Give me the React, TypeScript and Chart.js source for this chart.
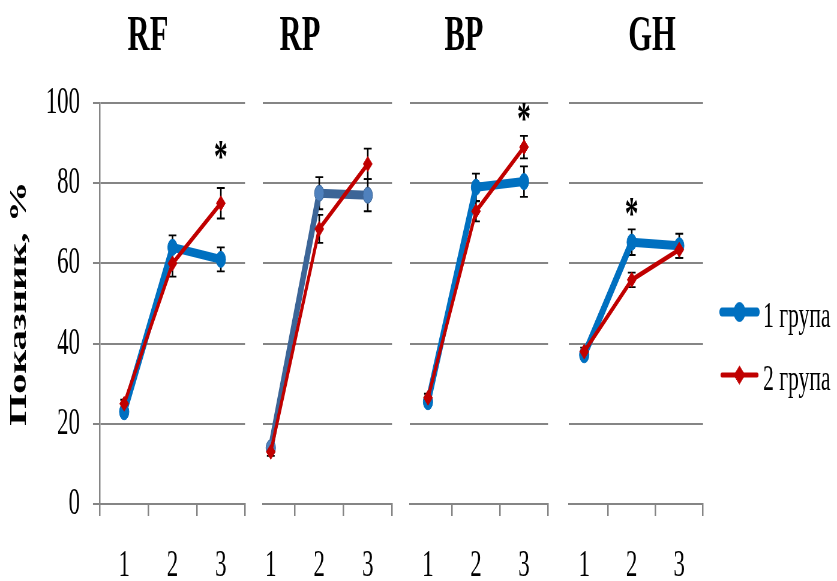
import { useEffect, useRef } from "react";
import { Chart, registerables } from "chart.js";

Chart.register(...registerables);
Chart.defaults.font.family = '"Liberation Serif", serif';
Chart.defaults.color = "#000";

// ---------------- data ----------------
const panelTitles = ["RF", "RP", "BP", "GH"];
const categories = [1, 2, 3];
const yTickValues = [0, 20, 40, 60, 80, 100];
const yAxisTitle = "Показник, %";
const group1Label = "1 група";
const group2Label = "2 група";

const rfGroup1 = [23, 64, 61];
const rfGroup1Err = [1, 3, 3];
const rfGroup2 = [25, 60, 75];
const rfGroup2Err = [1, 3.3, 3.8];
const rfStars = [null, null, 88.3];

const rpGroup1 = [14, 77.5, 77];
const rpGroup1Err = [1, 4, 4];
const rpGroup2 = [13, 68.6, 84.8];
const rpGroup2Err = [1, 3.5, 3.8];
const rpStars = [null, null, null];

const bpGroup1 = [25.5, 79, 80.4];
const bpGroup1Err = [1, 3.4, 3.8];
const bpGroup2 = [26.5, 73, 89];
const bpGroup2Err = [1, 2.5, 2.8];
const bpStars = [null, null, 97.8];

const ghGroup1 = [37.2, 65.3, 64.4];
const ghGroup1Err = [1, 3.2, 3];
const ghGroup2 = [38, 55.9, 63.4];
const ghGroup2Err = [1, 1.8, 2];
const ghStars = [null, 74.1, null];

// ---------------- layout / style ----------------
const S = 0.6; // horizontal squash of the whole picture
const W = 837 / S;
const H = 581;
const RED = "#C00000";
const GRID = "#858585";

const panelLayout = [
  { left: 100, right: 245, xMin: 0.5 },
  { left: 263, right: 392, xMin: 0.84 },
  { left: 410, right: 548, xMin: 0.625 },
  { left: 569, right: 703, xMin: 0.68 },
];
const titleCenters = [148, 300, 464, 652];
const group1Styles = [
  { line: "#0070C0", fill: "#0070C0" },
  { line: "#3C6597", fill: "#4F81BD" },
  { line: "#0070C0", fill: "#0070C0" },
  { line: "#0070C0", fill: "#0070C0" },
];

const panelData = [
  { g1: rfGroup1, e1: rfGroup1Err, g2: rfGroup2, e2: rfGroup2Err, stars: rfStars },
  { g1: rpGroup1, e1: rpGroup1Err, g2: rpGroup2, e2: rpGroup2Err, stars: rpStars },
  { g1: bpGroup1, e1: bpGroup1Err, g2: bpGroup2, e2: bpGroup2Err, stars: bpStars },
  { g1: ghGroup1, e1: ghGroup1Err, g2: ghGroup2, e2: ghGroup2Err, stars: ghStars },
];

type Pt = { x: number; y: number };
function series(values: number[]): Pt[] {
  return categories.map((c, i) => ({ x: c, y: values[i] }));
}

const errorBarsPlugin = {
  id: "errorBars",
  beforeDatasetsDraw(chart: any) {
    const { ctx, scales } = chart;
    const xs = scales.x;
    const ys = scales.y;
    chart.data.datasets.forEach((ds: any) => {
      const errs: number[] | undefined = ds.errors;
      if (!errs) return;
      ds.data.forEach((p: Pt, i: number) => {
        const e = errs[i];
        if (!e) return;
        const x = xs.getPixelForValue(p.x);
        const yTop = ys.getPixelForValue(p.y + e);
        const yBot = ys.getPixelForValue(p.y - e);
        ctx.save();
        ctx.strokeStyle = "#000";
        ctx.lineWidth = 2.6;
        ctx.beginPath();
        ctx.moveTo(x, yTop);
        ctx.lineTo(x, yBot);
        ctx.stroke();
        ctx.lineWidth = 1.8;
        ctx.beginPath();
        ctx.moveTo(x - 6.5, yTop);
        ctx.lineTo(x + 6.5, yTop);
        ctx.moveTo(x - 6.5, yBot);
        ctx.lineTo(x + 6.5, yBot);
        ctx.stroke();
        ctx.restore();
      });
    });
  },
};

function makeStarsPlugin(values: (number | null)[]) {
  return {
    id: "stars",
    afterDatasetsDraw(chart: any) {
      const { ctx, scales } = chart;
      const size = 46;
      ctx.save();
      ctx.fillStyle = "#000";
      ctx.font = `bold ${size}px "Liberation Serif", serif`;
      ctx.textAlign = "center";
      ctx.textBaseline = "alphabetic";
      values.forEach((v, i) => {
        if (v == null) return;
        const x = scales.x.getPixelForValue(categories[i]);
        const y = scales.y.getPixelForValue(v);
        ctx.fillText("*", x, y + size * 0.48);
      });
      ctx.restore();
    },
  };
}

function makeLegendPlugin(cfg: { x0: number; x1: number; y: number; dy: number; textX: number; textDy: number }) {
  return {
    id: "sideLegend",
    afterDraw(chart: any) {
      const ctx = chart.ctx;
      chart.data.datasets.forEach((ds: any, i: number) => {
        const y = cfg.y + i * cfg.dy;
        ctx.save();
        ctx.strokeStyle = ds.borderColor;
        ctx.lineWidth = ds.borderWidth;
        ctx.lineCap = "round";
        ctx.beginPath();
        ctx.moveTo(cfg.x0, y);
        ctx.lineTo(cfg.x1, y);
        ctx.stroke();
        const cx = (cfg.x0 + cfg.x1) / 2;
        const r = ds.pointRadius + 1.5;
        ctx.fillStyle = ds.pointBackgroundColor;
        ctx.strokeStyle = ds.pointBorderColor;
        ctx.lineWidth = ds.pointBorderWidth;
        ctx.beginPath();
        if (ds.pointStyle === "rectRot") {
          ctx.moveTo(cx - r, y);
          ctx.lineTo(cx, y - r);
          ctx.lineTo(cx + r, y);
          ctx.lineTo(cx, y + r);
          ctx.closePath();
        } else {
          ctx.arc(cx, y, r, 0, Math.PI * 2);
        }
        ctx.fill();
        ctx.stroke();
        ctx.fillStyle = "#000";
        ctx.font = '36px "Liberation Serif", serif';
        ctx.textAlign = "left";
        ctx.textBaseline = "alphabetic";
        ctx.fillText(ds.label, cfg.textX, y + cfg.textDy);
        ctx.restore();
      });
    },
  };
}

function buildConfig(i: number): any {
  const L = panelLayout[i];
  const d = panelData[i];
  const c1 = group1Styles[i];
  const areaLeft = L.left / S;
  const areaRight = L.right / S;
  const first = i === 0;
  const plugins: any[] = [errorBarsPlugin, makeStarsPlugin(d.stars)];
  if (i === panelLayout.length - 1) {
    plugins.push(
      makeLegendPlugin({ x0: 722 / S, x1: 757 / S, y: 312, dy: 63, textX: 763 / S, textDy: 15 })
    );
  }
  return {
    type: "line",
    data: {
      datasets: [
        {
          label: group1Label,
          data: series(d.g1),
          errors: d.e1,
          borderColor: c1.line,
          backgroundColor: c1.fill,
          borderWidth: 9,
          borderCapStyle: "round",
          borderJoinStyle: "round",
          pointStyle: "circle",
          pointRadius: 8,
          pointBackgroundColor: c1.fill,
          pointBorderColor: c1.line,
          pointBorderWidth: 1,
          tension: 0,
          fill: false,
          order: 1,
        },
        {
          label: group2Label,
          data: series(d.g2),
          errors: d.e2,
          borderColor: RED,
          backgroundColor: RED,
          borderWidth: 5,
          borderCapStyle: "round",
          borderJoinStyle: "round",
          pointStyle: "rectRot",
          pointRadius: 7.5,
          pointBackgroundColor: RED,
          pointBorderColor: RED,
          pointBorderWidth: 1,
          tension: 0,
          fill: false,
          order: 0,
        },
      ],
    },
    options: {
      animation: false,
      responsive: false,
      maintainAspectRatio: false,
      devicePixelRatio: 1,
      events: [],
      layout: { padding: { left: first ? 0 : areaLeft, right: W - areaRight, top: 103, bottom: 0 } },
      plugins: { legend: { display: false }, tooltip: { enabled: false }, title: { display: false } },
      scales: {
        x: {
          type: "linear",
          bounds: "data",
          min: L.xMin,
          max: 3.5,
          afterBuildTicks: (s: any) => {
            s.ticks = categories.map((v) => ({ value: v }));
          },
          afterFit: (s: any) => {
            s.height = 77;
          },
          grid: { offset: true, drawOnChartArea: false, drawTicks: true, tickLength: 12, color: GRID, lineWidth: 2.5 },
          border: { display: true, color: GRID, width: 2 },
          ticks: {
            font: { size: 38 },
            color: "#000",
            padding: 27,
            autoSkip: false,
            maxRotation: 0,
            callback: (v: any) => String(v),
          },
        },
        y: {
          type: "linear",
          min: 0,
          max: 100,
          afterBuildTicks: (s: any) => {
            s.ticks = yTickValues.map((v) => ({ value: v }));
          },
          afterFit: (s: any) => {
            s.width = first ? areaLeft : 0;
          },
          grid: { color: GRID, lineWidth: 2, drawTicks: first, tickLength: 11.7 },
          border: { display: first, color: GRID, width: 2.5 },
          ticks: { display: first, font: { size: 38 }, color: "#000", padding: 21.6 },
          title: {
            display: first,
            text: yAxisTitle,
            color: "#000",
            font: { size: 41, weight: "bold" },
            padding: { top: 8, bottom: 0 },
          },
        },
      },
    },
    plugins,
  };
}

export default function App() {
  const canvasRefs = useRef<(HTMLCanvasElement | null)[]>([]);

  useEffect(() => {
    const charts = panelLayout.map((_, i) => new Chart(canvasRefs.current[i] as HTMLCanvasElement, buildConfig(i)));
    return () => charts.forEach((c) => c.destroy());
  }, []);

  return (
    <div style={{ position: "absolute", left: 0, top: 0, width: 837, height: 581, overflow: "hidden", background: "#fff" }}>
      <div
        style={{
          position: "absolute",
          left: 0,
          top: 0,
          width: W,
          height: H,
          transform: `scaleX(${S})`,
          transformOrigin: "0 0",
        }}
      >
        {panelTitles.map((t, i) => (
          <div
            key={t}
            style={{
              position: "absolute",
              left: titleCenters[i] / S,
              top: 8,
              transform: "translateX(-50%)",
              fontFamily: '"Liberation Serif", serif',
              fontWeight: 700,
              fontSize: 51,
              lineHeight: "50px",
              whiteSpace: "nowrap",
              color: "#000",
            }}
          >
            {t}
          </div>
        ))}
        {panelLayout.map((_, i) => (
          <canvas
            key={i}
            ref={(el) => {
              canvasRefs.current[i] = el;
            }}
            width={W}
            height={H}
            style={{ position: "absolute", left: 0, top: 0 }}
          />
        ))}
      </div>
    </div>
  );
}
